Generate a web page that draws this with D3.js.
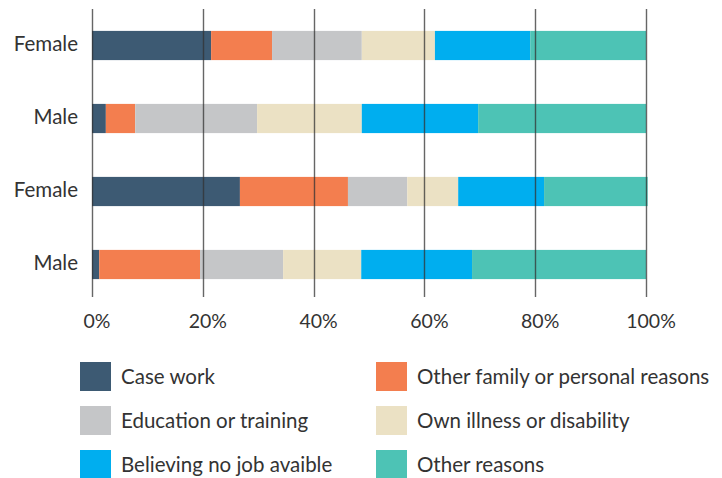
<!DOCTYPE html>
<html>
<head>
<meta charset="utf-8">
<script src="https://cdn.jsdelivr.net/npm/d3@7"></script>
<style>
  body { margin: 0; background: #fff; }
  text { font-family: Lato, "Open Sans", sans-serif; fill: #333; }
</style>
</head>
<body>
<svg width="722" height="478"></svg>
<script>
var width = 722;
var height = 478;

// rows, top to bottom
var rows = ['Female', 'Male', 'Female ', 'Male '];
var rowLabels = ['Female', 'Male', 'Female', 'Male'];

var keys = ['Case work', 'Other family or personal reasons', 'Education or training',
            'Own illness or disability', 'Believing no job avaible', 'Other reasons'];

// share of each reason, per row (%)
var caseWork   = [21.5,  2.5, 26.7,  1.3];
var otherFam   = [11.0,  5.3, 19.5, 18.2];
var education  = [16.2, 22.0, 10.7, 15.0];
var illness    = [13.2, 18.9,  9.2, 14.1];
var noJob      = [17.2, 21.0, 15.5, 20.0];
var otherReas  = [20.9, 30.3, 18.7, 31.4];

var ticks = [0, 20, 40, 60, 80, 100];

var colors = ['#3d5a73', '#f37e4f', '#c5c6c8', '#ebe1c4', '#00aeef', '#4dc3b5'];

var series = [caseWork, otherFam, education, illness, noJob, otherReas];
var table = rows.map(function(r, i) {
   var o = { row: r };
   keys.forEach(function(k, j) { o[k] = series[j][i]; });
   return o;
});

var svg = d3.select('svg');

var x = d3.scaleLinear()
   .domain([0, 100])
   .range([92, 646]);

var y = d3.scaleBand()
   .domain(rows)
   .range([9, 301])
   .paddingInner(0.6)
   .paddingOuter(0.3);

var color = d3.scaleOrdinal()
   .domain(keys)
   .range(colors);

var stacked = d3.stack().keys(keys)(table);

svg.append('g')
   .selectAll('g')
   .data(stacked)
   .join('g')
   .attr('fill', function(d) { return color(d.key); })
   .selectAll('rect')
   .data(function(d) { return d; })
   .join('rect')
   .attr('x', function(d) { return x(d[0]); })
   .attr('width', function(d) { return x(d[1]) - x(d[0]); })
   .attr('y', function(d) { return y(d.data.row); })
   .attr('height', y.bandwidth());

// grid lines sit on top of the bars
svg.append('g')
   .selectAll('line')
   .data(ticks)
   .join('line')
   .attr('x1', function(d) { return Math.round(x(d)) + 0.5; })
   .attr('x2', function(d) { return Math.round(x(d)) + 0.5; })
   .attr('y1', 9)
   .attr('y2', 297)
   .attr('stroke', '#333')
   .attr('stroke-opacity', 0.75)
   .attr('stroke-width', 1.4);

svg.append('g')
   .selectAll('text')
   .data(ticks)
   .join('text')
   .attr('x', function(d) { return x(d) + 5; })
   .attr('y', 328)
   .attr('text-anchor', 'middle')
   .style('font-size', '19.5px')
   .text(function(d) { return d + '%'; });

svg.append('g')
   .selectAll('text')
   .data(rows)
   .join('text')
   .attr('x', 78)
   .attr('y', function(d) { return y(d) + y.bandwidth() / 2 - 2; })
   .attr('dy', '0.35em')
   .attr('text-anchor', 'end')
   .style('font-size', '20.5px')
   .text(function(d, i) { return rowLabels[i]; });

// legend, two columns
var legend = svg.append('g')
   .selectAll('g')
   .data(keys)
   .join('g')
   .attr('transform', function(d, i) {
      var col = i % 2, row = Math.floor(i / 2);
      return 'translate(' + (80 + col * 296) + ',' + (362 + row * 44) + ')';
   });

legend.append('rect')
   .attr('width', 31)
   .attr('height', 29)
   .attr('fill', function(d) { return color(d); });

legend.append('text')
   .attr('x', 41)
   .attr('y', 15)
   .attr('dy', '0.35em')
   .style('font-size', '20.5px')
   .text(function(d) { return d; });
</script>
</body>
</html>
